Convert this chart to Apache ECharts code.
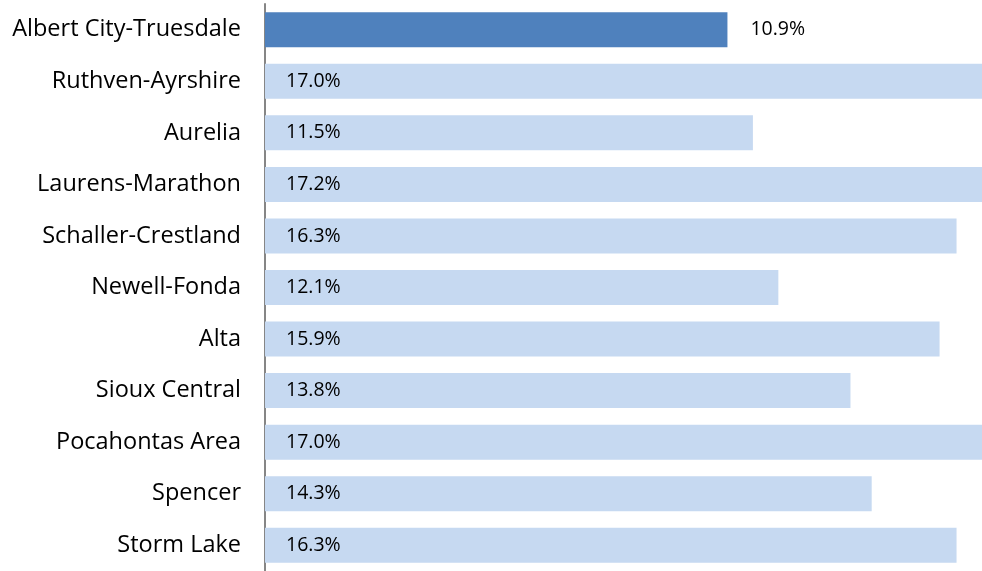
<!DOCTYPE html>
<html><head><meta charset="utf-8">
<script src="https://cdn.jsdelivr.net/npm/echarts@6/dist/echarts.min.js"></script>
<style>html,body{margin:0;padding:0;background:#fff}#c{width:982px;height:571px}</style>
</head><body><div id="c"></div>
<script>
const categories = ["Albert City-Truesdale","Ruthven-Ayrshire","Aurelia","Laurens-Marathon","Schaller-Crestland","Newell-Fonda","Alta","Sioux Central","Pocahontas Area","Spencer","Storm Lake"];
const values = [10.9,17.0,11.5,17.2,16.3,12.1,15.9,13.8,17.0,14.3,16.3];
const highlightIndex = 0;

const chart = echarts.init(document.getElementById('c'), null, {renderer:'canvas'});
const data = values.map((v,i)=>({
  value: v,
  itemStyle: {color: i===highlightIndex ? '#4F81BD' : '#C6D9F1'},
  label: i===highlightIndex ? {position:'right', distance: 23} : {position:'insideLeft', distance: 21}
}));
chart.setOption({
  animation:false,
  grid:{left:265, right:0, top:4, bottom:-4, containLabel:false},
  xAxis:{type:'value', min:0, max:16.9, show:false},
  yAxis:{type:'category', data:categories, inverse:true,
    axisLine:{show:true, lineStyle:{color:'#868686', width:2}},
    axisTick:{show:false},
    axisLabel:{fontFamily:'Open Sans', fontSize:23.5, color:'#000', margin:24}
  },
  series:[{type:'bar', data:data, barWidth:35, clip:true,
    label:{show:true, fontFamily:'Open Sans', fontSize:19.5, color:'#000', formatter:p=>p.value.toFixed(1)+'%'}
  }]
});
</script></body></html>
